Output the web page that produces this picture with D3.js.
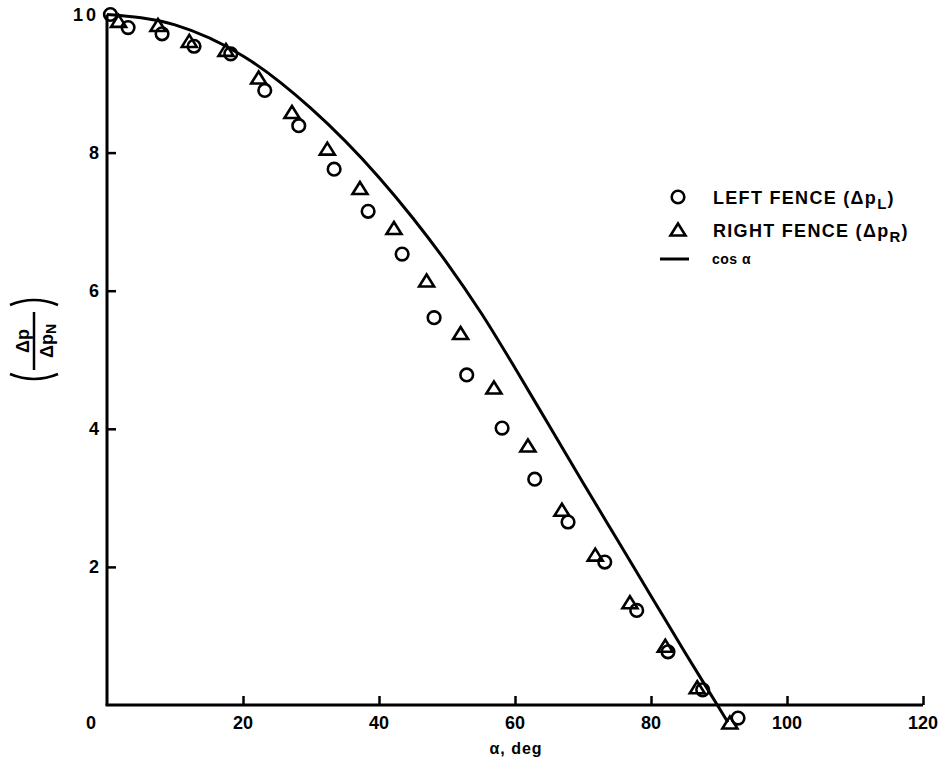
<!DOCTYPE html>
<html>
<head>
<meta charset="utf-8">
<script src="https://cdn.jsdelivr.net/npm/d3@7"></script>
<style>
  html, body { margin: 0; padding: 0; background: #fff; }
  svg { display: block; }
  text { font-family: "Liberation Sans", Arial, sans-serif; font-weight: bold; fill: #000; }
</style>
</head>
<body>
<svg id="chart" width="945" height="763"></svg>
<script>
// Angle of attack (deg) and normalised pressure difference, left fence
const leftAlpha = [0.5, 3.1, 8.1, 12.8, 18.2, 23.2, 28.2, 33.4, 38.4, 43.4, 48.1, 52.9, 58.1, 62.9, 67.8, 73.2, 77.9, 82.5, 87.6, 92.8];
const leftValue = [10.0, 9.81, 9.72, 9.54, 9.43, 8.90, 8.39, 7.76, 7.15, 6.53, 5.61, 4.78, 4.01, 3.27, 2.65, 2.07, 1.37, 0.77, 0.22, -0.19];

// Right fence
const rightAlpha = [1.7, 7.5, 12.1, 17.5, 22.3, 27.2, 32.4, 37.2, 42.2, 47.0, 52.0, 56.9, 61.9, 66.9, 71.8, 76.9, 82.1, 86.8, 91.6];
const rightValue = [9.90, 9.84, 9.61, 9.48, 9.08, 8.58, 8.05, 7.48, 6.90, 6.14, 5.38, 4.59, 3.75, 2.82, 2.17, 1.48, 0.85, 0.25, -0.26];

// Reference curve, cos alpha
const cosAlpha = [0, 10, 20, 30, 40, 45, 50, 55, 60, 65, 70, 75, 80, 85, 90, 91.3];
const cosValue = [10.0, 9.85, 9.40, 8.64, 7.64, 7.05, 6.40, 5.68, 4.88, 4.05, 3.22, 2.40, 1.58, 0.76, -0.04, -0.25];

// Axis ticks
const xTicks = [0, 20, 40, 60, 80, 100, 120];
const yTicks = [0, 2, 4, 6, 8, 10];

const svg = d3.select("#chart");

const x = d3.scaleLinear().domain([0, 120]).range([107, 923]);
const y = d3.scaleLinear().domain([0, 10]).range([705, 14.5]);

// Axes: thick lines with short inward ticks
const axisW = 3;
const xAxis = d3.axisTop(x).tickValues(xTicks.slice(1)).tickSize(9).tickFormat("");
const gx = svg.append("g").attr("transform", `translate(0,${y(0)})`).call(xAxis);
gx.select(".domain").attr("d", `M${x(0) - 1.5},0H${x(120)}`).attr("stroke", "#000").attr("stroke-width", axisW);
gx.selectAll(".tick line").attr("stroke", "#000").attr("stroke-width", 2.5);

const yAxis = d3.axisRight(y).tickValues(yTicks.slice(1, -1)).tickSize(9).tickFormat("");
const gy = svg.append("g").attr("transform", `translate(${x(0)},0)`).call(yAxis);
gy.select(".domain").attr("d", `M0,${y(0)}V${y(10)}`).attr("stroke", "#000").attr("stroke-width", axisW);
gy.selectAll(".tick line").attr("stroke", "#000").attr("stroke-width", 2.5);

// Tick labels
svg.append("g").selectAll("text").data(xTicks).join("text")
  .attr("x", d => x(d) + (d === 0 ? -16 : 0))
  .attr("y", y(0) + 24)
  .attr("text-anchor", "middle")
  .attr("font-size", 18)
  .text(d => d);

svg.append("g").selectAll("text").data(yTicks.slice(1)).join("text")
  .attr("x", x(0) - 8)
  .attr("y", d => y(d) + 6.5)
  .attr("text-anchor", "end")
  .attr("font-size", 18)
  .attr("letter-spacing", d => d === 10 ? 3 : 0)
  .text(d => d);

// X axis title
svg.append("text")
  .attr("x", 516).attr("y", 754)
  .attr("text-anchor", "middle")
  .attr("font-size", 16)
  .attr("letter-spacing", 1)
  .text("\u03b1, deg");

// Y axis title: (Δp / Δp_N) set vertically
const yl = svg.append("g").attr("transform", "translate(34,341) rotate(-90)");
yl.append("line").attr("x1", -29).attr("x2", 29).attr("y1", 0).attr("y2", 0)
  .attr("stroke", "#000").attr("stroke-width", 2.5);
yl.append("text").attr("x", 0).attr("y", -5).attr("text-anchor", "middle").attr("font-size", 18).text("\u0394p");
const den = yl.append("text").attr("x", 0).attr("y", 19).attr("text-anchor", "middle").attr("font-size", 18);
den.append("tspan").text("\u0394p");
den.append("tspan").attr("font-size", 14).attr("dy", 3).text("N");
// bracket arcs
yl.append("path").attr("d", "M-33,-24 Q-43,0 -33,24").attr("fill", "none").attr("stroke", "#000").attr("stroke-width", 2.6);
yl.append("path").attr("d", "M36,-24 Q46,0 36,24").attr("fill", "none").attr("stroke", "#000").attr("stroke-width", 2.6);

// cos alpha curve
const line = d3.line().x(d => x(d[0])).y(d => y(d[1])).curve(d3.curveMonotoneX);
svg.append("path")
  .datum(d3.zip(cosAlpha, cosValue))
  .attr("d", line)
  .attr("fill", "none").attr("stroke", "#000").attr("stroke-width", 3);

// Markers
const triPath = "M0,-6.5L7.5,5.5L-7.5,5.5Z";
svg.append("g").selectAll("path").data(d3.zip(rightAlpha, rightValue)).join("path")
  .attr("d", triPath)
  .attr("transform", d => `translate(${x(d[0])},${y(d[1])})`)
  .attr("fill", "none").attr("stroke", "#000").attr("stroke-width", 2.6).attr("stroke-linejoin", "miter");

svg.append("g").selectAll("circle").data(d3.zip(leftAlpha, leftValue)).join("circle")
  .attr("cx", d => x(d[0])).attr("cy", d => y(d[1])).attr("r", 6.3)
  .attr("fill", "none").attr("stroke", "#000").attr("stroke-width", 2.6);

// Legend
const lg = svg.append("g");
lg.append("circle").attr("cx", 678).attr("cy", 197).attr("r", 6.3)
  .attr("fill", "none").attr("stroke", "#000").attr("stroke-width", 2.6);
lg.append("path").attr("d", triPath).attr("transform", "translate(678,230)")
  .attr("fill", "none").attr("stroke", "#000").attr("stroke-width", 2.6);
lg.append("line").attr("x1", 660).attr("x2", 689).attr("y1", 259).attr("y2", 259)
  .attr("stroke", "#000").attr("stroke-width", 3);

function legendText(yPos, main, sub) {
  const t = lg.append("text").attr("x", 713).attr("y", yPos).attr("font-size", 18).attr("letter-spacing", 1.3);
  t.append("tspan").text(main);
  t.append("tspan").attr("font-size", 15).attr("dy", 5).text(sub);
  t.append("tspan").attr("dy", -5).text(")");
}
legendText(204, "LEFT FENCE (\u0394p", "L");
legendText(237, "RIGHT FENCE (\u0394p", "R");
lg.append("text").attr("x", 712).attr("y", 264).attr("font-size", 14).attr("letter-spacing", 0.5)
  .text("cos \u03b1");
</script>
</body>
</html>
